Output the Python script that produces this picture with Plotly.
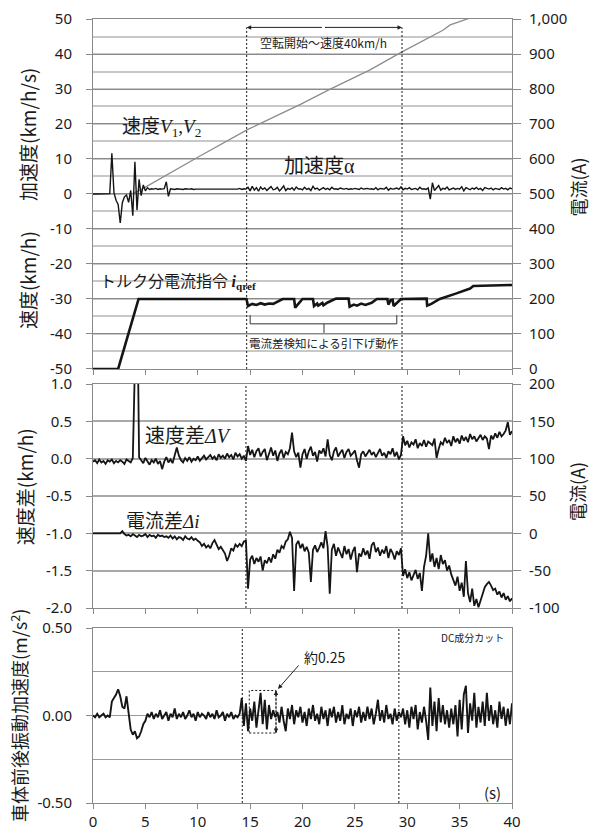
import plotly.graph_objects as go

# ---------------- data ----------------
# sample grid of the recorded signals (s)
time_s = [round(i * 0.2, 1) for i in range(201)]

# acceleration alpha (km/h/s), left axis of top panel
accel_kmhs = [
    0.0, 0.0, 0.0, 0.0, 0.0, 0.0, 0.0, 0.0, 0.1,
    11.6, 0.4, -1.8, -3.0, -8.3, -2.5, -0.8, -0.3, -2.4, 1.0, -6.2, 9.2, -4.6, 4.2, -0.5, 2.6, 0.9,
    1.8, 1.3, 1.5, 1.4, 1.6, 1.3, 1.5, 1.4, 1.5, 3.5, -0.7, 1.5,
    1.4, 1.3, 1.5, 1.4, 1.4, 1.3, 1.5, 1.4, 1.4, 1.5, 1.3, 1.4,
    1.4, 1.5, 1.4, 1.3, 1.4, 1.5, 1.4, 1.4, 1.3, 1.4, 1.5, 1.4,
    1.3, 1.4, 1.5, 1.4, 1.4, 1.3, 1.5, 1.4, 1.6, 1.3, 1.5, 1.4,
    1.9, 0.9, 2.2, 1.1, 1.8, 0.8, 2.0, 1.3, 1.7, 1.0,
    1.6, 2.1, 1.2, 1.4, 1.9, 0.9, 1.5, 2.3, 1.0, 1.6,
    1.3, 1.8, 1.1, 2.0, 1.4, 1.5, 1.2, 1.9, 1.3, 1.6,
    1.0, 2.2, 1.4, 1.7, 1.1, 1.5, 1.8, 1.3, 1.6, 1.2,
    1.9, 1.4, 1.5, 1.3, 1.7, 1.5, 1.4, 1.6, 1.3, 1.5,
    1.4, 1.6, 1.5, 1.3, 1.7, 1.4, 1.5, 1.6, 1.4, 1.5,
    1.3, 1.8, 1.2, 1.6, 1.5, 1.4, 1.9, 1.1, 1.6, 1.4,
    1.5, 1.7, 1.3, 2.0, 1.2, 1.6, 1.4, 1.8, 1.3, 1.5,
    1.6, 1.2, 1.9, 1.4, 1.5, 1.3, 1.7, -1.5, 3.2, 1.0,
    1.8, 2.4, 1.1, 1.6, 1.4, 2.0, 1.2, 1.5, 1.7, 1.3,
    1.6, 1.4, 2.1, 0.9, 1.8, 1.5, 1.2, 1.7, 1.4, 1.9,
    1.3, 1.6, 1.0, 1.8, 1.5, 1.4, 1.7, 1.2, 1.6, 1.5,
    1.3, 1.8, 1.4, 1.6, 1.2, 1.7, 1.5,
]

# vehicle speed V1, V2 (km/h), left axis of top panel
speed_t = [0.0, 3.8, 4.5, 7.0, 10.0, 14.7, 19.8, 22.6, 26.4, 29.5, 32.2, 33.0, 33.4, 34.1, 36.0, 37.0]
speed_kmh = [0.0, 0.2, 1.1, 5.4, 10.5, 18.3, 25.6, 29.9, 35.4, 40.6, 44.9, 46.0, 46.8, 48.3, 50.3, 51.8]

# torque current command i_qref (A), right axis of top panel
iq_t = [0.0, 2.4, 4.35, 14.65, 14.8, 15.2, 15.6, 16.0, 16.4, 16.8, 17.2,
        18.1, 19.2, 19.3, 19.6, 20.0, 21.0, 21.1, 21.4, 21.5, 21.9, 22.0, 22.4,
        23.2, 24.4, 24.5, 24.9, 25.2, 25.6, 26.0, 26.6, 27.1, 28.1, 28.2, 28.4,
        28.6, 28.7, 29.4, 31.85, 31.9, 32.3, 33.1, 34.7, 36.0, 36.3, 40.0]
iq_a = [0, 0, 200, 200, 180, 186, 183, 188, 184, 187, 186,
        200, 200, 175, 186, 200, 200, 180, 187, 181, 189, 182, 190,
        201, 201, 178, 184, 181, 187, 183, 189, 200, 200, 184, 196,
        198, 180, 200, 201, 181, 186, 200, 216, 230, 237, 240]

# speed difference dV (km/h), left axis of middle panel
dv_kmh = [
    -0.04, -0.02, -0.06, -0.01, -0.05, -0.03, -0.07, -0.02, -0.04, -0.01,
    -0.06, -0.03, -0.05, -0.02, -0.04, -0.07, -0.01, -0.03, -0.05,
    0.01, 2.5, 2.5, 0.02,
    -0.02, -0.06, 0.01, -0.04, -0.08, -0.02, -0.05, 0.00, -0.07, -0.03,
    -0.14, -0.04, 0.02, -0.05, -0.01, -0.06, 0.03, 0.15, 0.04, -0.02,
    -0.05, 0.01, -0.03, 0.02, -0.04, 0.00, -0.02, 0.03, -0.03, 0.01,
    0.04, -0.01, 0.02, 0.05, 0.00, 0.03, -0.02, 0.06, 0.01, 0.04,
    0.00, 0.07, 0.02, 0.05, -0.01, 0.08, 0.03, 0.06, 0.00, 0.04,
    -0.03,
    0.17, 0.05, 0.12, 0.02, 0.10, 0.14, 0.03, 0.09, 0.13, -0.02,
    0.08, 0.15, 0.04, 0.11, -0.03, 0.07, 0.12, 0.01, 0.09, 0.06,
    0.14, 0.35, 0.10, 0.02, 0.08, -0.12, 0.06, 0.13, 0.00, 0.10,
    0.16, 0.04, 0.09, -0.04, 0.11, 0.07, 0.14, 0.03, 0.26, 0.05,
    -0.02, 0.10, 0.15, 0.03, 0.08, 0.12, 0.01, 0.09, 0.13, 0.04,
    0.07, 0.11, -0.02, -0.12, 0.06, 0.10, 0.03, 0.08, 0.12, 0.05,
    0.09, 0.02, 0.07, 0.13, 0.04, 0.08, 0.01, 0.10, 0.06, 0.14,
    0.03, 0.09, -0.01, 0.05,
    0.30, 0.18, 0.24, 0.15, 0.22, 0.19, 0.26, 0.14, 0.21, 0.17,
    0.25, 0.16, 0.23, 0.20, 0.18, 0.27, 0.01, 0.13, 0.22, 0.19,
    0.28, 0.21, 0.25, 0.17, 0.30, 0.22, 0.27, 0.20, 0.31, 0.24,
    0.29, 0.22, 0.33, 0.26, 0.30, 0.23, 0.28, 0.32, 0.25, 0.30,
    0.27, 0.13, 0.31, 0.26, 0.34, 0.28, 0.36, 0.30, 0.33, 0.38,
    0.49, 0.32, 0.37,
]

# current difference di (A), right axis of middle panel
di_a = [
    0, 0, 0, 0, 0, 0, 0, 0, 0, 0, 0, 0, 0, 0,
    3,
    -1, -3, -2, -4, -1, -3, -5, -2, -4, -3, -1, -5, -2, -4, -3, -6, -2, -4, -3, -5, -4,
    -6, -3, -7, -4, -8, -5, -6, -9, -4, -7, -8, -5, -9, -7, -10,
    -12, -17, -14, -19, -16, -20, -13, -9, -15, -21, -18, -22, -27, -37, -30, -20,
    -23, -15, -18, -14, -17, -11, -10,
    -74, -35, -30, -41, -33, -38, -31, -50, -36, -40, -32, -39,
    -28, -34, -22, -26, -17, -20, -11, -8, 2, -6,
    -77, -15,
    -10, -20, -14, -24, -18, -26, -65, -22, -16, -25, -19, -12, -20,
    3, -18, -81,
    -22, -14, -30, -19, -26, -33, -17, -28, -21, -35,
    -24, -18, -52, -27, -31, -20, -29, -23, -34, -16,
    -12, -25, -19, -30, -22, -27, -17, -33, -21, -26,
    -35, -24, -29, -20,
    -57, -48, -60, -52, -63, -55, -49, -61, -53, -77, -45,
    -30, 0,
    -38, -27, -45, -33, -48, -29, -41, -36, -50, -43, -55,
    -62, -70, -58, -77, -66, -85, -37, -80, -92, -74, -97, -88, -99,
    -90, -80, -72, -68, -65, -70, -76,
    -74, -82, -78, -86, -80, -89, -84, -91, -87,
]

# car body longitudinal vibration acceleration (m/s^2), bottom panel
body_ms2 = [
    0.00, -0.01, 0.01, -0.01, 0.00, 0.01, -0.01, 0.00, -0.01,
    0.08, 0.10, 0.12, 0.15, 0.11, 0.05, 0.04, 0.11, 0.00, -0.08,
    -0.11, -0.09, -0.13, -0.12, -0.09, -0.05, -0.03, 0.01, -0.01,
    0.02, -0.02, 0.01, -0.01, 0.03, -0.02, 0.00, 0.02, -0.03, 0.01,
    -0.01, 0.04, -0.02, 0.01, -0.01, 0.02, -0.02, 0.00, 0.03, -0.01,
    0.01, -0.03, 0.02, -0.01, 0.01, 0.00, -0.02, 0.02, -0.01, 0.01,
    -0.02, 0.03, -0.01, 0.00, 0.02, -0.03, 0.01, -0.01, 0.02, -0.02,
    0.00, -0.01, 0.01,
    0.10, -0.06, 0.07, -0.09, 0.04, -0.03, 0.08, -0.07, 0.05, 0.13,
    -0.05, 0.09, -0.08, 0.06, -0.02, 0.03, -0.01,
    0.02, -0.04, 0.05, -0.03, -0.09, 0.04, -0.02, 0.06, -0.05, 0.03,
    -0.01, 0.05, -0.04, 0.02, -0.06, 0.04, -0.02, 0.06, -0.03, 0.01,
    -0.05, 0.05, -0.02, 0.03, -0.06, 0.04, -0.01, 0.05, -0.04, 0.02,
    -0.03, 0.06, -0.05, 0.01, -0.02, 0.04, -0.06, 0.03, -0.01, 0.05,
    -0.04, 0.02, -0.03, 0.05, -0.02, 0.04, -0.05, 0.01, 0.09, -0.03,
    0.03, -0.04, 0.06, -0.02, 0.01, -0.05, 0.04, -0.03, 0.02, -0.01,
    0.04, -0.05, 0.03, -0.07, 0.05, -0.02, 0.06, -0.08, 0.02, -0.04,
    0.05, -0.03, -0.14, 0.16, -0.06, 0.08, -0.09, 0.10, -0.04, 0.06,
    -0.05, 0.03, -0.07, 0.04, -0.05, 0.06, -0.12, 0.09, -0.08, 0.12,
    0.17, -0.10, 0.07, -0.03, 0.13, -0.07, 0.05, -0.04, 0.08, -0.06,
    0.13, -0.03, 0.06, -0.05, 0.03, -0.07, 0.08, -0.02, 0.05, -0.06,
    0.04, -0.05, 0.07,
]

# tick labels
x_tickvals = [0, 5, 10, 15, 20, 25, 30, 35, 40]
top_left_vals = [50, 40, 30, 20, 10, 0, -10, -20, -30, -40, -50]
top_left_text = ["50", "40", "30", "20", "10", "0", "-10", "-20", "-30", "-40", "-50"]
top_right_vals = [0, 100, 200, 300, 400, 500, 600, 700, 800, 900, 1000]
top_right_text = ["0", "100", "200", "300", "400", "500", "600", "700", "800", "900", "1,000"]
mid_left_vals = [1.0, 0.5, 0.0, -0.5, -1.0, -1.5, -2.0]
mid_left_text = ["1.0", "0.5", "0.0", "-0.5", "-1.0", "-1.5", "-2.0"]
mid_right_vals = [200, 150, 100, 50, 0, -50, -100]
mid_right_text = ["200", "150", "100", "50", "0", "-50", "-100"]
bot_vals = [0.5, 0.0, -0.5]
bot_text = ["0.50", "0.00", "-0.50"]

# event times (s)
slip_start_top, slip_end_top = 14.67, 29.5
slip_start_bot, slip_end_bot = 14.25, 29.2

# ---------------- figure ----------------
BLACK = "#151515"
GRID_DARK = "#8a8a8a"
GRID_LIGHT = "#c8c8c8"
AX = "#8a8a8a"
NUMFONT = dict(family="Noto Sans, Noto Sans CJK JP", size=15, color="#1a1a1a")
JP = "Noto Sans CJK JP"
SERIF = "Liberation Serif"

fig = go.Figure()
fig.add_trace(go.Scatter(x=speed_t, y=speed_kmh, xaxis="x", yaxis="y", mode="lines",
                         line=dict(color="#8c8c8c", width=1.3), hoverinfo="skip"))
fig.add_trace(go.Scatter(x=time_s, y=accel_kmhs, xaxis="x", yaxis="y", mode="lines",
                         line=dict(color=BLACK, width=1.4), hoverinfo="skip"))
fig.add_trace(go.Scatter(x=iq_t, y=iq_a, xaxis="x", yaxis="y2", mode="lines",
                         line=dict(color=BLACK, width=2.6), hoverinfo="skip"))
fig.add_trace(go.Scatter(x=time_s, y=dv_kmh, xaxis="x2", yaxis="y3", mode="lines",
                         line=dict(color=BLACK, width=1.8), hoverinfo="skip"))
fig.add_trace(go.Scatter(x=time_s, y=di_a, xaxis="x2", yaxis="y4", mode="lines",
                         line=dict(color=BLACK, width=1.8), hoverinfo="skip"))
fig.add_trace(go.Scatter(x=time_s, y=body_ms2, xaxis="x3", yaxis="y5", mode="lines",
                         line=dict(color=BLACK, width=1.9), hoverinfo="skip"))

def xax(anchor, labels):
    return dict(domain=[0, 1], anchor=anchor, range=[0, 40], tickvals=x_tickvals,
                showticklabels=labels, ticks="outside", ticklen=5, tickcolor=AX,
                showline=True, linecolor=AX, linewidth=1, mirror=True,
                showgrid=False, zeroline=False, tickfont=NUMFONT, fixedrange=True,
                automargin=False)

D_TOP = [0.5536, 1.0]
D_MID = [0.2487, 0.5344]
D_BOT = [0.0, 0.2232]

fig.update_layout(
    width=590, height=834, autosize=False,
    margin=dict(l=93, r=78, t=19, b=31, pad=0),
    paper_bgcolor="white", plot_bgcolor="white", showlegend=False,
    xaxis=xax("y", False),
    xaxis2=xax("y3", False),
    xaxis3=xax("y5", True),
    yaxis=dict(domain=D_TOP, anchor="x", range=[-50, 50], tickvals=top_left_vals, ticktext=top_left_text,
               showgrid=True, gridcolor=GRID_DARK, gridwidth=1,
               minor=dict(dtick=5, tick0=0, showgrid=True, gridcolor=GRID_LIGHT, gridwidth=2, ticks=""),
               ticks="outside", ticklen=6, tickcolor=AX, showline=True, linecolor=AX,
               zeroline=False, tickfont=NUMFONT, ticklabelstandoff=11, automargin=False),
    yaxis2=dict(overlaying="y", anchor="x", side="right", range=[0, 1000],
                tickvals=top_right_vals, ticktext=top_right_text, showgrid=False,
                ticks="outside", ticklen=8, tickcolor=AX, showline=True, linecolor=AX,
                zeroline=False, tickfont=NUMFONT, ticklabelstandoff=5, automargin=False),
    yaxis3=dict(domain=D_MID, anchor="x2", range=[-2.0, 1.0], tickvals=mid_left_vals, ticktext=mid_left_text,
                showgrid=True, gridcolor="#a8a8a8", gridwidth=1.5,
                ticks="outside", ticklen=6, tickcolor=AX, showline=True, linecolor=AX,
                zeroline=False, tickfont=NUMFONT, ticklabelstandoff=11, automargin=False),
    yaxis4=dict(overlaying="y3", anchor="x2", side="right", range=[-100, 200],
                tickvals=mid_right_vals, ticktext=mid_right_text, showgrid=False,
                ticks="outside", ticklen=8, tickcolor=AX, showline=True, linecolor=AX,
                zeroline=False, tickfont=NUMFONT, ticklabelstandoff=5, automargin=False),
    yaxis5=dict(domain=D_BOT, anchor="x3", range=[-0.5, 0.5], tickvals=bot_vals, ticktext=bot_text,
                showgrid=True, gridcolor="#9a9a9a", gridwidth=1,
                minor=dict(dtick=0.25, tick0=0, showgrid=True, gridcolor="#9a9a9a", gridwidth=1, ticks=""),
                ticks="outside", ticklen=6, tickcolor=AX, showline=True, linecolor=AX, mirror=True,
                zeroline=False, tickfont=NUMFONT, ticklabelstandoff=11, automargin=False),
)

DOT = "2px,2px"
shapes = [
    # top panel event lines
    dict(type="line", xref="x", yref="y", x0=slip_start_top, x1=slip_start_top, y0=-50, y1=47.6,
         line=dict(color=BLACK, width=1, dash=DOT)),
    dict(type="line", xref="x", yref="y", x0=slip_end_top, x1=slip_end_top, y0=-50, y1=47.6,
         line=dict(color=BLACK, width=1, dash=DOT)),
    # middle panel event lines
    dict(type="line", xref="x2", yref="y3 domain", x0=14.6, x1=14.6, y0=0, y1=1,
         line=dict(color=BLACK, width=1, dash=DOT)),
    dict(type="line", xref="x2", yref="y3 domain", x0=slip_end_top, x1=slip_end_top, y0=0, y1=1,
         line=dict(color=BLACK, width=1, dash=DOT)),
    # bottom panel event lines
    dict(type="line", xref="x3", yref="y5 domain", x0=slip_start_bot, x1=slip_start_bot, y0=0, y1=1,
         line=dict(color=BLACK, width=1, dash=DOT)),
    dict(type="line", xref="x3", yref="y5 domain", x0=slip_end_bot, x1=slip_end_bot, y0=0, y1=1,
         line=dict(color=BLACK, width=1, dash=DOT)),
    # bracket under i_qref
    dict(type="path", xref="x", yref="y",
         path="M 15.0,-34.6 L 15.0,-37.1 L 29.0,-37.1 L 29.0,-34.6 M 22.05,-37.1 L 22.05,-39.7",
         line=dict(color="#333333", width=1)),
    # amplitude box in bottom panel
    dict(type="rect", xref="x3", yref="y5", x0=14.92, x1=17.47, y0=-0.10, y1=0.143,
         line=dict(color=BLACK, width=1, dash=DOT)),
    dict(type="line", xref="x3", yref="y5", x0=17.47, x1=17.47, y0=-0.10, y1=0.143,
         line=dict(color=BLACK, width=1, dash=DOT)),
]
fig.update_layout(shapes=shapes)

def title(text, x, y, size=19, angle=-90):
    return dict(text=text, xref="paper", yref="paper", x=x, y=y, showarrow=False,
                textangle=angle, font=dict(family=JP, size=size, color="#1a1a1a"),
                xanchor="center", yanchor="middle")

def note(text, x, y, xr, yr, size, anchor="left", color="#1a1a1a"):
    return dict(text=text, xref=xr, yref=yr, x=x, y=y, showarrow=False,
                font=dict(family=JP, size=size, color=color), xanchor=anchor, yanchor="middle")

def arrow(x, y, ax, ay, xr, yr, pix=False):
    d = dict(text="", xref=xr, yref=yr, x=x, y=y, ax=ax, ay=ay, showarrow=True,
             arrowhead=2, arrowsize=0.9, arrowwidth=1, arrowcolor="#222222")
    if not pix:
        d.update(axref=xr, ayref=yr)
    return d

serif = lambda s: "<span style='font-family:%s'>%s</span>" % (SERIF, s)

annotations = [
    # axis titles
    title("加速度(km/h/s)", -0.1575, 0.852),
    title("速度(km/h)", -0.1575, 0.667),
    title("電流(A)", 1.157, 0.786, size=18),
    title("速度差(km/h)", -0.165, 0.404),
    title("電流(A)", 1.155, 0.398, size=18),
    title("車体前後振動加速度(m/s<sup>2</sup>)", -0.177, 0.112, size=18),
    # curve labels
    note("速度" + serif("<i>V</i><sub>1</sub>,<i>V</i><sub>2</sub>"), 2.55, 19.7, "x", "y", 19),
    note("加速度" + serif("α"), 18.05, 8.3, "x", "y", 20),
    note("トルク分電流指令 " + serif("<b><i>i</i></b><sub><b>qref</b></sub>"), 0.45, -24.6, "x", "y", 16),
    note("速度差" + serif("<i>ΔV</i>"), 4.75, 0.33, "x2", "y3", 20),
    note("電流差" + serif("<i>Δi</i>"), 3.0, -0.82, "x2", "y3", 19),
    # top annotation
    note("空転開始～速度40km/h", 22.0, 43.4, "x", "y", 12, anchor="center", color="#222222"),
    arrow(slip_start_top, 47.6, 22.0, 47.6, "x", "y"),
    arrow(slip_end_top, 47.6, 22.0, 47.6, "x", "y"),
    note("電流差検知による引下げ動作", 22.05, -42.6, "x", "y", 11.5, anchor="center", color="#222222"),
    # bottom panel
    note("DC成分カット", 39.4, 0.445, "x3", "y5", 10, anchor="right", color="#222222"),
    note("(s)", 38.1, -0.44, "x3", "y5", 15, anchor="center"),
    note("約0.25", 19.95, 0.335, "x3", "y5", 14),
    arrow(17.66, 0.152, 19.76, 0.295, "x3", "y5"),
    arrow(17.47, 0.143, 0, 7, "x3", "y5", pix=True),
    arrow(17.47, -0.10, 0, -7, "x3", "y5", pix=True),
]
fig.update_layout(annotations=annotations)

fig.write_html("out.html")
